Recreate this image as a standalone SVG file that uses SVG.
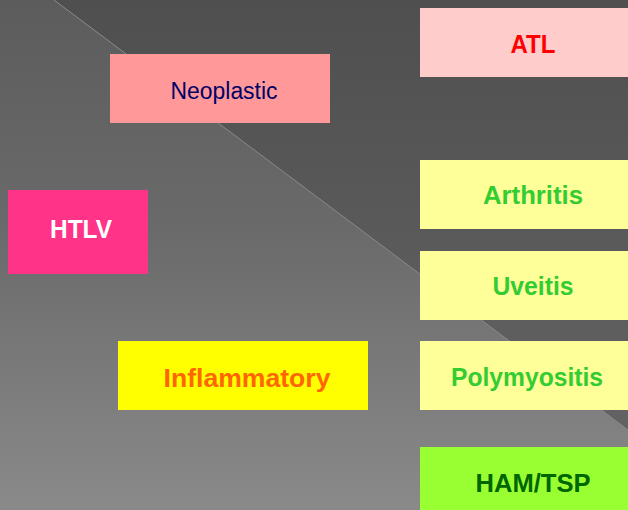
<svg xmlns="http://www.w3.org/2000/svg" width="628" height="510" viewBox="0 0 628 510">
<defs>
<linearGradient id="gLight" x1="0" y1="0" x2="0" y2="1">
<stop offset="0" stop-color="#5c5c5c"/>
<stop offset="0.45" stop-color="#6a6a6a"/>
<stop offset="1" stop-color="#8a8a8a"/>
</linearGradient>
<linearGradient id="gDark" x1="0" y1="0" x2="0" y2="1">
<stop offset="0" stop-color="#4f4f4f"/>
<stop offset="1" stop-color="#666666"/>
</linearGradient>
</defs>
<style>
.lbl{font-family:"Liberation Sans",Arial,sans-serif;text-anchor:middle;font-size:25px;font-weight:bold}
.reg{font-weight:normal;font-size:23px}
</style>
<rect x="0" y="0" width="628" height="510" fill="url(#gDark)"/>
<polygon points="0,0 54,0 628,430 628,510 0,510" fill="url(#gLight)"/>
<g id="connectors">
<line x1="54" y1="0" x2="628" y2="430" stroke="#8a8a8a" stroke-width="1"/>
</g>
<g id="neoplastic">
<rect x="110" y="54" width="220" height="69" fill="#ff9999"/>
<text class="lbl reg" x="224" y="99" fill="#000066" textLength="107" lengthAdjust="spacingAndGlyphs">Neoplastic</text>
</g>
<g id="atl">
<rect x="420" y="8" width="208" height="69" fill="#ffcccc"/>
<text class="lbl" x="533" y="53" fill="#ff0000" textLength="45" lengthAdjust="spacingAndGlyphs">ATL</text>
</g>
<g id="htlv">
<rect x="8" y="190" width="140" height="84" fill="#ff3388"/>
<text class="lbl" x="81" y="238" fill="#ffffff" textLength="62" lengthAdjust="spacingAndGlyphs">HTLV</text>
</g>
<g id="arthritis">
<rect x="420" y="160" width="208" height="69" fill="#ffff99"/>
<text class="lbl" x="533" y="204" fill="#33cc33" textLength="100" lengthAdjust="spacingAndGlyphs">Arthritis</text>
</g>
<g id="uveitis">
<rect x="420" y="251" width="208" height="69" fill="#ffff99"/>
<text class="lbl" x="533" y="295" fill="#33cc33" textLength="81" lengthAdjust="spacingAndGlyphs">Uveitis</text>
</g>
<g id="polymyositis">
<rect x="420" y="341" width="208" height="69" fill="#ffff99"/>
<text class="lbl" x="527" y="386" fill="#33cc33" textLength="152" lengthAdjust="spacingAndGlyphs">Polymyositis</text>
</g>
<g id="inflammatory">
<rect x="118" y="341" width="250" height="69" fill="#ffff00"/>
<text class="lbl" x="247" y="387" fill="#ff6600" textLength="167" lengthAdjust="spacingAndGlyphs">Inflammatory</text>
</g>
<g id="hamtsp">
<rect x="420" y="447" width="208" height="63" fill="#99ff33"/>
<text class="lbl" x="533" y="492" fill="#006600" textLength="115" lengthAdjust="spacingAndGlyphs">HAM/TSP</text>
</g>
</svg>
